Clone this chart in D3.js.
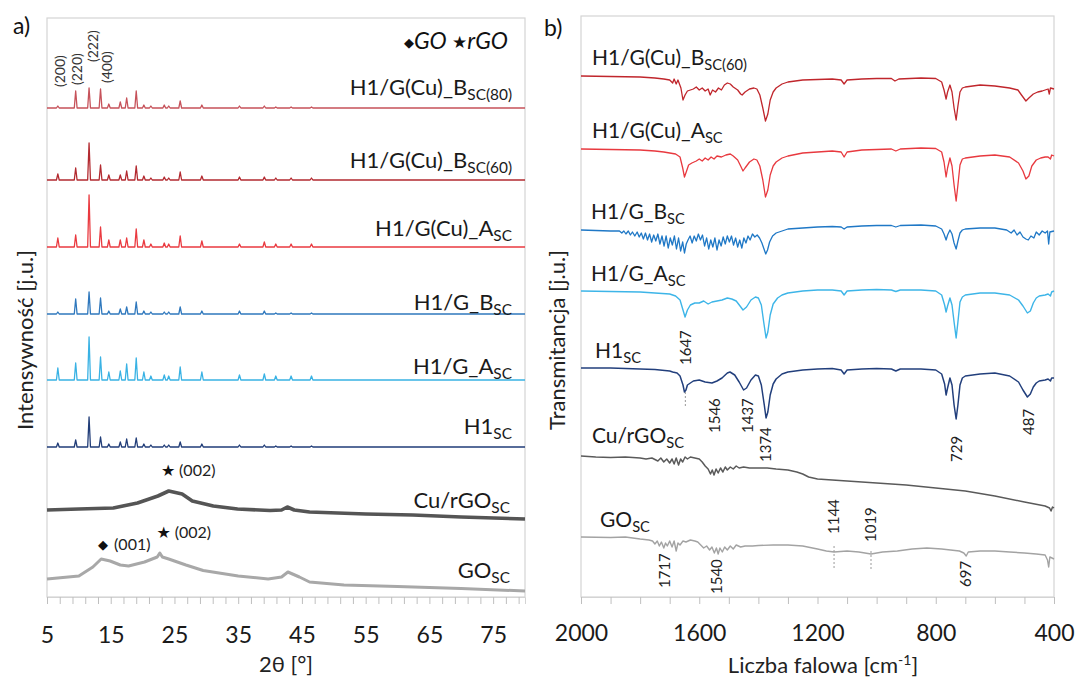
<!DOCTYPE html>
<html><head><meta charset="utf-8">
<script src="https://cdn.jsdelivr.net/npm/d3@7"></script>
<style>
body{margin:0;background:#fff}
text{font-family:Lato,'Open Sans',sans-serif;fill:#222}
</style></head>
<body>
<svg id="c" width="1075" height="677"></svg>
<script>
// ===================== DATA =====================
// ---- panel a) XRD (2θ, arbitrary intensity, stacked with offsets) ----
const xrdTicks = [5, 15, 25, 35, 45, 55, 65, 75];
const xrdPeakPos = [6.7, 9.5, 11.6, 13.4, 14.7, 16.5, 17.5, 19.0, 20.2, 21.3, 23.4, 24.1, 25.9, 29.3, 35.2, 39.1, 40.9, 43.3, 46.5];
const xrdNames = ["H1/G(Cu)_B", "H1/G(Cu)_B", "H1/G(Cu)_A", "H1/G_B", "H1/G_A", "H1"];
const xrdSubs = ["SC(80)", "SC(60)", "SC", "SC", "SC", "SC"];
const xrdOffsets = [489, 417, 350, 283, 217, 150];
const xrdB80 = [2, 17, 20, 19, 4, 6, 10, 17, 3, 2, 3, 2, 7, 3, 2, 2, 1, 1, 1];
const xrdB60 = [6, 12, 37, 15, 5, 5, 9, 14, 4, 2, 3, 2, 8, 4, 3, 3, 2, 2, 2];
const xrdCuA = [9, 12, 52, 20, 7, 7, 9, 18, 7, 3, 4, 3, 11, 6, 3, 5, 3, 3, 3];
const xrdGB  = [2, 15, 22, 16, 3, 5, 7, 12, 3, 2, 2, 2, 7, 3, 3, 3, 1, 1, 1];
const xrdGA  = [12, 17, 43, 23, 8, 9, 16, 22, 8, 4, 5, 4, 13, 8, 5, 6, 4, 4, 4];
const xrdH1  = [4, 7, 30, 10, 3, 5, 8, 9, 3, 2, 2, 2, 5, 3, 2, 2, 1, 1, 1];
const xrdCuRGO = [[5,87],[10,88],[15.4,89],[19.2,94],[22.4,101],[24.1,106],[26.2,103],[27.8,96],[31.1,91],[34.9,88],[40,86.5],[41.8,87],[42.7,90],[43.8,87],[46.2,85],[55,83],[62.4,82],[70,80],[80,78]];
const xrdGO = [[5,18],[10,21],[12.2,30],[13.5,38],[14.9,36],[16.5,32],[17.8,31],[20.3,35],[22.3,40],[22.7,44],[23.1,40],[24.1,38],[26.8,32],[29.5,26.5],[35,21],[39.7,18],[41.8,20],[42.8,25],[44.6,20],[46.2,15],[51.6,12],[60,10.5],[70,8.5],[80,6]];
const hklLabels = ["(200)", "(220)", "(222)", "(400)"];
const hklPos = [[7.0, 510], [9.7, 512], [12.2, 535], [14.4, 514]];

// ---- panel b) FTIR (wavenumber, relative transmittance, stacked) ----
const ftirTicks = [2000, 1600, 1200, 800, 400];
const ftirNames = ["H1/G(Cu)_B", "H1/G(Cu)_A", "H1/G_B", "H1/G_A", "H1", "Cu/rGO", "GO"];
const ftirSubs = ["SC(60)", "SC", "SC", "SC", "SC", "SC", "SC"];
const ftirOffsets = [521, 448, 367, 306, 229, 141, 60];
const ftirB60 = [[2000,0],[1900,-0.5],[1800,-1],[1750,-2],[1720,-3],[1700,-4],[1690,-7],[1685,-3],[1678,-8],[1672,-4],[1662,-12],[1655,-24],[1648,-19],[1640,-15],[1630,-14],[1620,-13],[1610,-11],[1600,-14],[1590,-12],[1580,-15],[1570,-13],[1563,-19],[1555,-14],[1545,-16],[1535,-12],[1525,-14],[1515,-9],[1505,-7],[1495,-8],[1485,-11],[1470,-14],[1460,-18],[1455,-19],[1445,-16],[1430,-13],[1415,-12],[1405,-13],[1395,-19],[1385,-32],[1376,-45],[1368,-38],[1360,-24],[1350,-16],[1340,-12],[1320,-8],[1300,-6],[1250,-4],[1200,-3.5],[1150,-3],[1120,-4],[1110,-8],[1100,-4],[1050,-3],[1000,-2.5],[950,-2.5],[938,-5],[925,-3],[850,-2],[800,-2.5],[780,-6],[772,-14],[765,-23],[760,-16],[752,-9],[745,-16],[738,-32],[731,-44],[725,-30],[718,-16],[710,-12],[700,-11],[650,-9],[600,-10],[550,-12],[522,-14],[510,-19],[495,-25],[485,-22],[470,-18],[455,-16],[440,-15],[430,-14],[420,-13],[416,-18],[412,-12],[400,-13]];
const ftirCuA = [[2000,0],[1900,-0.5],[1800,-1],[1750,-2],[1720,-3],[1700,-4],[1680,-5],[1665,-8],[1656,-19],[1650,-28],[1644,-23],[1636,-16],[1625,-14],[1610,-12],[1600,-10],[1590,-12],[1580,-9],[1570,-11],[1560,-8],[1550,-10],[1540,-7],[1525,-8],[1510,-6],[1495,-5],[1485,-7],[1470,-11],[1460,-17],[1452,-22],[1445,-19],[1430,-13],[1415,-10],[1405,-11],[1395,-17],[1385,-31],[1376,-48],[1368,-41],[1360,-26],[1350,-17],[1340,-13],[1320,-9],[1300,-7],[1250,-4],[1200,-3],[1150,-2],[1120,-3],[1110,-8],[1100,-3],[1050,-1],[1000,-0.5],[950,0],[935,-2],[920,0],[850,1],[800,0.5],[780,-3],[772,-13],[765,-28],[760,-19],[752,-9],[745,-17],[738,-36],[731,-52],[725,-36],[718,-16],[710,-10],[700,-9],[650,-7],[600,-6],[550,-8],[520,-14],[505,-22],[495,-30],[485,-27],[475,-17],[460,-11],[445,-9],[430,-8],[420,-8],[412,-10],[408,-6],[400,-7]];
const ftirGB = [[2000,0],[1950,-0.5],[1900,-1],[1870,-1],[1862,-3],[1855,-1],[1848,-4],[1840,-1],[1833,-5],[1826,-2],[1818,-6],[1810,-2],[1803,-7],[1796,-3],[1789,-9],[1782,-3],[1775,-10],[1768,-4],[1761,-12],[1754,-5],[1747,-11],[1740,-4],[1733,-14],[1726,-6],[1719,-16],[1712,-6],[1705,-18],[1698,-8],[1691,-15],[1684,-6],[1677,-19],[1670,-8],[1663,-21],[1656,-12],[1650,-23],[1644,-14],[1638,-10],[1631,-6],[1624,-13],[1617,-6],[1610,-11],[1603,-4],[1596,-10],[1589,-5],[1582,-16],[1575,-8],[1568,-19],[1561,-10],[1554,-17],[1547,-8],[1540,-20],[1533,-10],[1526,-16],[1519,-7],[1512,-14],[1505,-6],[1498,-12],[1491,-6],[1484,-15],[1477,-8],[1470,-17],[1463,-10],[1456,-18],[1449,-8],[1442,-13],[1435,-6],[1428,-10],[1420,-4],[1412,-7],[1404,-5],[1396,-8],[1388,-13],[1381,-19],[1375,-24],[1369,-20],[1362,-12],[1352,-6],[1340,-3],[1320,-1],[1300,1],[1250,2],[1200,3],[1150,3.5],[1120,3],[1110,1],[1100,3],[1050,4],[1000,4.5],[950,4.5],[935,3],[920,4.5],[850,5],[800,4],[780,1],[772,-4],[765,-10],[760,-5],[752,0],[745,-4],[738,-13],[731,-19],[725,-11],[718,-3],[710,0],[700,1],[650,2],[600,2],[560,0],[545,-3],[535,0],[525,-5],[515,-2],[505,-7],[495,-9],[487,-10],[478,-6],[468,-8],[460,-2],[450,-5],[440,-1],[430,-3],[422,-1],[418,-14],[414,-2],[400,-1]];
const ftirGA = [[2000,0],[1900,-0.5],[1800,-1],[1750,-2],[1700,-3],[1680,-5],[1665,-9],[1655,-19],[1648,-26],[1640,-19],[1630,-14],[1615,-12],[1600,-12],[1585,-10],[1570,-13],[1557,-11],[1540,-10],[1523,-9],[1505,-7],[1490,-8],[1475,-10],[1462,-15],[1452,-19],[1440,-16],[1425,-9],[1410,-6],[1400,-7],[1390,-14],[1382,-31],[1374,-47],[1368,-41],[1360,-24],[1350,-13],[1335,-7],[1320,-4],[1300,-2],[1250,0],[1200,1],[1150,1],[1120,0],[1110,-4],[1100,0],[1050,1],[1000,1.5],[950,1],[935,-0.5],[920,1],[850,1],[800,0],[780,-4],[770,-14],[765,-21],[760,-15],[752,-7],[745,-14],[738,-31],[731,-47],[725,-31],[718,-11],[710,-6],[700,-4],[650,-2],[600,-2],[550,-4],[520,-9],[505,-15],[490,-22],[480,-20],[470,-12],[460,-7],[450,-5],[430,-4],[420,-3],[412,-5],[408,-1],[400,0]];
const ftirH1 = [[2000,0],[1900,0],[1800,-1],[1750,-1.5],[1700,-3],[1690,-4],[1675,-5],[1665,-8],[1655,-17],[1650,-24],[1645,-22],[1640,-17],[1630,-15],[1620,-13],[1600,-12],[1580,-14],[1557,-15],[1540,-13],[1523,-10],[1505,-5],[1496,-4],[1480,-7],[1465,-14],[1450,-22],[1440,-20],[1425,-12],[1410,-7],[1400,-8],[1390,-17],[1380,-37],[1374,-50],[1368,-44],[1360,-27],[1350,-16],[1340,-11],[1320,-6],[1300,-4],[1250,-2],[1200,-1],[1150,-0.5],[1120,-2],[1110,-6],[1100,-2],[1050,-1],[1000,-0.5],[950,-1],[935,-3],[920,-1],[850,-1],[800,-2],[780,-6],[770,-16],[765,-27],[760,-20],[752,-10],[745,-17],[738,-37],[731,-51],[725,-37],[718,-17],[710,-10],[700,-8],[650,-6],[600,-5],[550,-8],[520,-14],[505,-22],[490,-29],[480,-26],[470,-19],[460,-15],[450,-13],[430,-12],[420,-11],[412,-13],[408,-10],[400,-10]];
const ftirCuRGO = [[2000,0],[1950,-1],[1900,-1.5],[1850,-1],[1800,-2],[1780,-3],[1760,-2],[1740,-5],[1730,-2],[1720,-6],[1710,-3],[1700,-7],[1692,-3],[1685,-8],[1678,-2],[1670,-9],[1663,-3],[1656,-6],[1648,-1],[1640,-3],[1630,-1],[1615,-2],[1600,-3],[1590,-6],[1580,-10],[1570,-13],[1562,-18],[1556,-14],[1550,-19],[1543,-13],[1536,-17],[1528,-12],[1520,-16],[1512,-11],[1505,-14],[1495,-11],[1485,-13],[1475,-10],[1465,-12],[1450,-11],[1430,-12],[1400,-12],[1370,-12],[1340,-13],[1300,-14],[1270,-16],[1250,-18],[1230,-21],[1200,-23],[1150,-24],[1100,-25],[1000,-27],[900,-29],[800,-32],[700,-35],[600,-40],[500,-46],[430,-50],[415,-52],[410,-55],[405,-51],[400,-52]];
const ftirGO = [[2000,0],[1900,-0.5],[1850,0],[1800,-2],[1770,-3],[1758,-4],[1750,-7],[1742,-4],[1735,-9],[1728,-5],[1720,-11],[1714,-6],[1708,-9],[1700,-4],[1692,-10],[1685,-4],[1678,-14],[1672,-6],[1665,-8],[1655,-4],[1645,-5],[1630,-3],[1615,-4],[1605,-5],[1595,-8],[1585,-11],[1575,-9],[1565,-13],[1557,-10],[1549,-16],[1542,-11],[1536,-17],[1530,-11],[1522,-15],[1514,-10],[1505,-13],[1495,-9],[1485,-12],[1475,-8],[1460,-10],[1445,-9],[1420,-9],[1400,-8.5],[1350,-8],[1300,-8],[1250,-9],[1200,-12],[1170,-14],[1144,-15],[1100,-14],[1060,-15],[1019,-17],[980,-15],[930,-14],[880,-12],[830,-11],[780,-12],[750,-13],[720,-14],[705,-16],[697,-19],[690,-15],[650,-14],[600,-14],[550,-15],[500,-16],[460,-17],[430,-18],[422,-23],[418,-30],[414,-20],[400,-22]];
// band labels: [text, wavenumber, value at the label's lower end]
const bandLabels = [["1647",1647,232],["1546",1546,164],["1437",1437,164],["1374",1374,135],["729",729,135],["487",487,162],["1144",1144,63],["1019",1019,55],["1717",1717,9],["1540",1540,3],["697",697,10]];
// dotted guide lines: [wavenumber, value top, value bottom]
const bandGuides = [[1647,205,189],[1144,51,29],[1019,46,26]];

// ===================== DRAW =====================
const svg = d3.select("#c");
const frameCol = "#d4d4d4", tickCol = "#bfbfbf";

function seriesLabel(g, x, y, main, sub, anchor, size){
  const t = g.append("text").attr("x", x).attr("y", y).attr("text-anchor", anchor)
    .style("font-size", size + "px").style("fill", "#1a1a1a");
  t.append("tspan").text(main);
  t.append("tspan").attr("dy", size*0.24).style("font-size", (size*0.7) + "px").text(sub);
}

// ---------- Panel a ----------
const xA = d3.scaleLinear().domain([5, 80]).range([47, 525]);
const yA = d3.scaleLinear().domain([0, 579]).range([597, 18]);
const gA = svg.append("g");
gA.append("rect").attr("x", xA(5)).attr("y", yA(579)).attr("width", xA(80)-xA(5)).attr("height", yA(0)-yA(579))
  .attr("fill", "none").attr("stroke", frameCol).attr("stroke-width", 1.2);

const axA = d3.axisBottom(xA).tickValues(d3.range(5, 80, 2)).tickSize(7)
  .tickFormat(d => xrdTicks.includes(d) ? d : "");
const axAg = gA.append("g").attr("transform", `translate(0,${yA(0)})`).call(axA);
axAg.select(".domain").attr("stroke", frameCol);
axAg.selectAll(".tick line").attr("stroke", tickCol);
axAg.selectAll(".tick text").attr("y", 46).attr("dy", null).style("font-size", "23px").style("fill", "#1a1a1a")
  .style("font-family", "Lato,'Open Sans',sans-serif");

const lineA = d3.line().x(d => xA(d[0])).y(d => yA(d[1]));
function xrdPoints(offset, heights){
  const pts = [[5, offset]];
  xrdPeakPos.forEach((p, i) => { pts.push([p-0.22, offset], [p, offset + heights[i]], [p+0.22, offset]); });
  pts.push([80, offset]);
  return pts;
}
const xrdSets = [xrdB80, xrdB60, xrdCuA, xrdGB, xrdGA, xrdH1];
const xrdCols = ["#c6525a", "#b32a30", "#ea3a40", "#2f78bd", "#39b2e4", "#213d78"];
xrdSets.forEach((h, i) => {
  gA.append("path").attr("d", lineA(xrdPoints(xrdOffsets[i], h))).attr("fill", "none")
    .attr("stroke", xrdCols[i]).attr("stroke-width", 1.3).attr("stroke-linejoin", "round");
});
gA.append("path").attr("d", lineA(xrdCuRGO)).attr("fill", "none").attr("stroke", "#555").attr("stroke-width", 3.6).attr("stroke-linejoin","round");
gA.append("path").attr("d", lineA(xrdGO)).attr("fill", "none").attr("stroke", "#a8a8a8").attr("stroke-width", 3).attr("stroke-linejoin","round");

// labels panel a
const labAy = [95, 168, 236, 310, 374, 434];
xrdNames.forEach((n, i) => seriesLabel(gA, 512, labAy[i], n, xrdSubs[i], "end", 22));
seriesLabel(gA, 510, 508, "Cu/rGO", "SC", "end", 22);
seriesLabel(gA, 510, 578, "GO", "SC", "end", 22);

// hkl labels
hklLabels.forEach((t, i) => {
  gA.append("text").attr("transform", `translate(${xA(hklPos[i][0])},${yA(hklPos[i][1])}) rotate(-90)`)
    .attr("dy", "0.35em").style("font-size", "14px").style("fill", "#333").text(t);
});

// legend GO / rGO
const leg = gA.append("text").attr("x", 508).attr("y", 49).attr("text-anchor", "end").style("font-size", "23px").style("fill","#111");
leg.append("tspan").style("font-family", "'DejaVu Sans'").style("font-size", "13px").attr("dy", -2).text("◆");
leg.append("tspan").style("font-style", "italic").attr("dy", 2).text("GO ");
leg.append("tspan").style("font-family", "'DejaVu Sans'").style("font-size", "17px").attr("dy", -1).text("★");
leg.append("tspan").style("font-style", "italic").attr("dy", 1).text("rGO");

// peak markers
function marker(sym, x, y, txt){
  gA.append("text").attr("x", xA(x)).attr("y", yA(y)).attr("text-anchor", "middle").attr("dy", "0.35em")
    .style("font-family", "'DejaVu Sans'").style("font-size", sym === "◆" ? "13px" : "16px").style("fill", "#111").text(sym);
  gA.append("text").attr("x", xA(x) + 11).attr("y", yA(y)).attr("dy", "0.35em").style("font-size", "16px").style("fill", "#222").text(txt);
}
marker("★", 24.0, 127, "(002)");
marker("★", 23.3, 65, "(002)");
marker("◆", 13.8, 53, "(001)");

// axis titles a
svg.append("text").attr("x", xA(42.5)).attr("y", 672).attr("text-anchor", "middle").style("font-size", "22px").text("2θ [°]");
svg.append("text").attr("transform", "translate(25,340) rotate(-90)").attr("text-anchor", "middle").attr("dy", "0.35em")
  .style("font-size", "22px").text("Intensywność [j.u.]");
svg.append("text").attr("x", 13).attr("y", 34).style("font-size", "23px").style("fill","#111").text("a)");

// ---------- Panel b ----------
const xB = d3.scaleLinear().domain([2000, 400]).range([581, 1054]);
const yB = d3.scaleLinear().domain([0, 581]).range([597, 16]);
const gB = svg.append("g");
gB.append("rect").attr("x", xB(2000)).attr("y", yB(581)).attr("width", xB(400)-xB(2000)).attr("height", yB(0)-yB(581))
  .attr("fill", "none").attr("stroke", frameCol).attr("stroke-width", 1.2);
const axB = d3.axisBottom(xB).tickValues(d3.range(2000, 399, -100)).tickSize(7)
  .tickFormat(d => ftirTicks.includes(d) ? d : "");
const axBg = gB.append("g").attr("transform", `translate(0,${yB(0)})`).call(axB);
axBg.select(".domain").attr("stroke", frameCol);
axBg.selectAll(".tick line").attr("stroke", tickCol);
axBg.selectAll(".tick text").attr("y", 44).attr("dy", null).style("font-size", "23px").style("fill", "#1a1a1a")
  .style("font-family", "Lato,'Open Sans',sans-serif");

const ftirSets = [ftirB60, ftirCuA, ftirGB, ftirGA, ftirH1, ftirCuRGO, ftirGO];
const ftirCols = ["#c0262c", "#e8393f", "#1f78c6", "#3db5e8", "#223f7c", "#5a5a5a", "#a3a3a3"];
const ftirW = [1.3, 1.3, 1.3, 1.4, 1.5, 1.5, 1.4];
ftirSets.forEach((s, i) => {
  const off = ftirOffsets[i];
  const ln = d3.line().x(d => xB(d[0])).y(d => yB(off + d[1]));
  gB.append("path").attr("d", ln(s)).attr("fill", "none").attr("stroke", ftirCols[i])
    .attr("stroke-width", ftirW[i]).attr("stroke-linejoin", "round");
});
const labB = [[592, 65], [592, 138], [591, 219], [591, 281], [595, 358], [592, 443], [600, 527]];
ftirNames.forEach((n, i) => seriesLabel(gB, labB[i][0], labB[i][1], n, ftirSubs[i], "start", 21));

bandGuides.forEach(d => {
  gB.append("line").attr("x1", xB(d[0])).attr("x2", xB(d[0])).attr("y1", yB(d[1])).attr("y2", yB(d[2]))
    .attr("stroke", "#999").attr("stroke-width", 1).attr("stroke-dasharray", "2,2");
});
bandLabels.forEach(d => {
  gB.append("text").attr("transform", `translate(${xB(d[1])},${yB(d[2])}) rotate(-90)`).attr("dy", "0.35em")
    .style("font-size", "15px").style("fill", "#222").text(d[0]);
});

const tB = svg.append("text").attr("x", 823).attr("y", 673).attr("text-anchor", "middle").style("font-size", "22px");
tB.append("tspan").text("Liczba falowa [cm");
tB.append("tspan").attr("dy", -8).style("font-size", "14px").text("-1");
tB.append("tspan").attr("dy", 8).text("]");
svg.append("text").attr("transform", "translate(557,340) rotate(-90)").attr("text-anchor", "middle").attr("dy", "0.35em")
  .style("font-size", "22px").text("Transmitancja [j.u.]");
svg.append("text").attr("x", 544).attr("y", 36).style("font-size", "23px").style("fill","#111").text("b)");
</script>
</body></html>
